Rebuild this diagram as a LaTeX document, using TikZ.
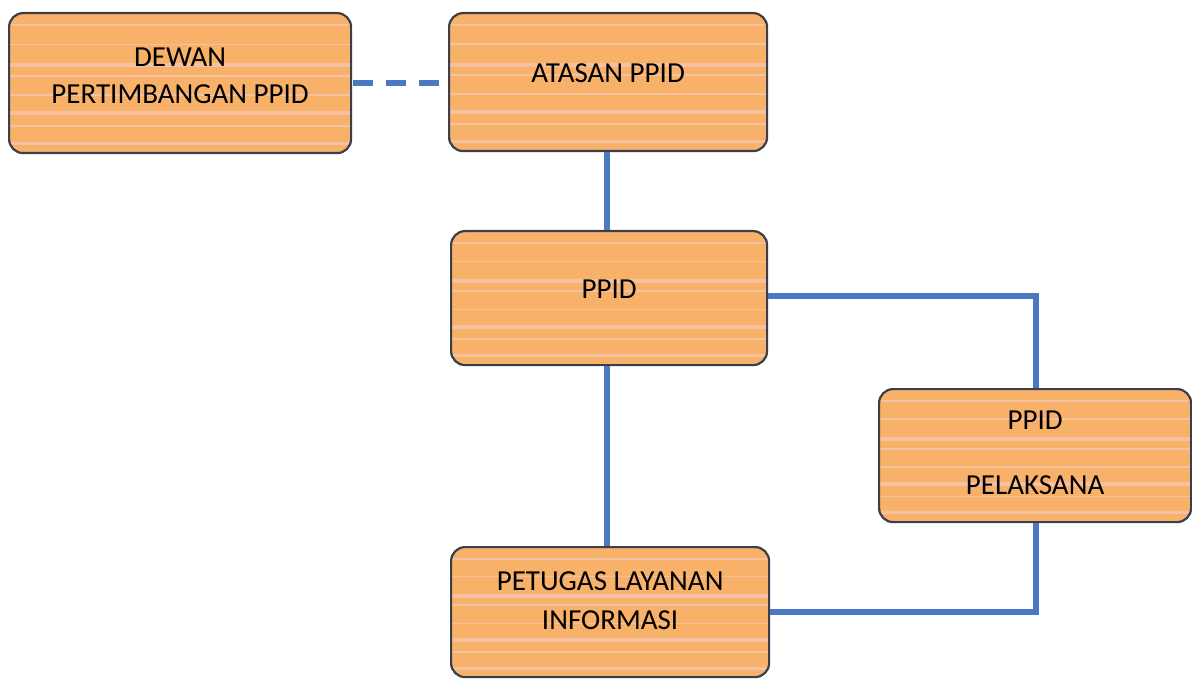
\documentclass[tikz,border=0pt]{standalone}
\usepackage{fontspec}
\setmainfont{Carlito}
\definecolor{boxorange}{HTML}{F8B168}
\definecolor{boxpink}{HTML}{F6C6B8}
\definecolor{boxedge}{HTML}{3A3F4A}
\definecolor{linkblue}{HTML}{4A78C2}
\begin{document}
\begin{tikzpicture}[x=1pt,y=-1pt,
  orgbox/.style={draw=boxedge, line width=2.2pt, rounded corners=14pt, fill=boxorange,
    minimum width=#1, inner sep=0pt, anchor=north west,
    path picture={
      \foreach \f/\w in {0.08/2,0.22/1.5,0.36/4,0.44/2,0.58/1.5,0.70/4,0.80/1.5,0.92/3}{
        \fill[boxpink,opacity=0.75,sharp corners] ([yshift=-\f*\pgfkeysvalueof{/pgf/minimum height}]path picture bounding box.north west) rectangle ++(2000,\w);
      }
    }},
  orgbox/.default=318pt,
  boxtext/.style={font=\fontsize{29}{37}\selectfont, align=center, text=black},
  link/.style={draw=linkblue, line width=5.5pt}
]
\useasboundingbox (0,0) rectangle (1192,679);
% boxes
\node[orgbox=342pt, minimum height=140pt] (dewan) at (8,12) {};
\node[orgbox=318pt, minimum height=138pt] (atasan) at (448,12) {};
\node[orgbox=316pt, minimum height=134pt] (ppid) at (450,230) {};
\node[orgbox=312pt, minimum height=133pt] (pel) at (878,388) {};
\node[orgbox=318pt, minimum height=130pt] (petugas) at (450,546) {};
% texts
\node[boxtext] (tdewan) at ([yshift=7pt]dewan.center) {DEWAN\\PERTIMBANGAN PPID};
\node[boxtext] (tatasan) at ([yshift=9pt]atasan.center) {ATASAN PPID};
\node[boxtext] (tppid) at ([yshift=9pt]ppid.center) {PPID};
\node[boxtext, font=\fontsize{29}{65}\selectfont] (tpel) at ([yshift=3pt]pel.center) {PPID\\PELAKSANA};
\node[boxtext, font=\fontsize{29}{39}\selectfont] (tpetugas) at ([yshift=11pt]petugas.center) {PETUGAS LAYANAN\\INFORMASI};
% connectors
\coordinate (c1) at (1036,296);
\coordinate (c2) at (1036,612);
\coordinate (cv) at (607,0);
\draw[link, dash pattern=on 20pt off 13pt] ([xshift=1pt]dewan.east) -- (atasan.west |- dewan.east);
\draw[link] (cv |- atasan.south) -- (cv |- ppid.north);
\draw[link] (cv |- ppid.south) -- (cv |- petugas.north);
\draw[link] (ppid.east |- c1) -- (c1) -- (c1 |- pel.north);
\draw[link] (c2 |- pel.south) -- (c2) -- (petugas.east |- c2);
\end{tikzpicture}
\end{document}
